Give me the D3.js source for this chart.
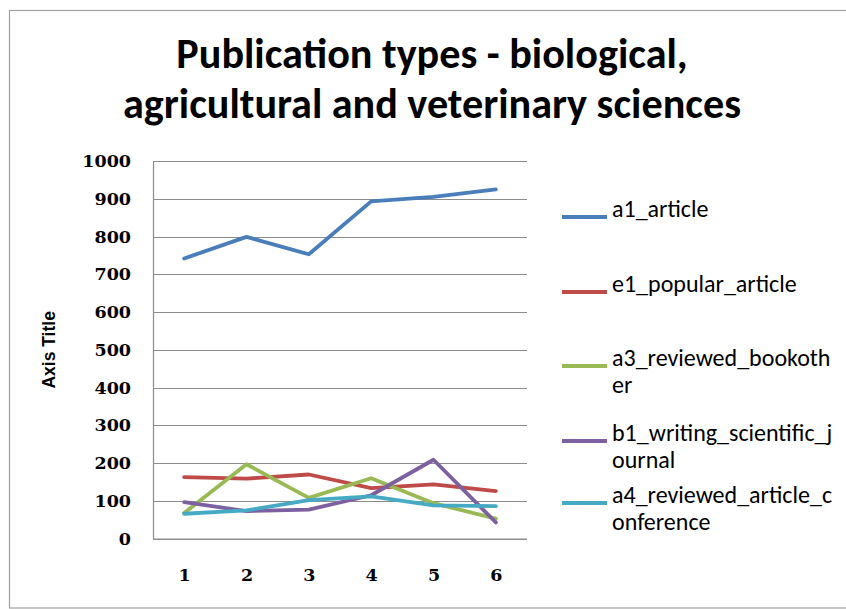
<!DOCTYPE html>
<html><head><meta charset="utf-8">
<script src="https://cdn.jsdelivr.net/npm/d3@7"></script>
<style>
html,body{margin:0;padding:0;background:#fff;overflow:hidden;}
svg{display:block;}
</style></head>
<body>
<svg id="chart" width="846" height="609"></svg>
<script>
const titleLines = ["Publication types - biological,", "agricultural and veterinary sciences"];
const categories = ["1", "2", "3", "4", "5", "6"];
const yTicks = [0, 100, 200, 300, 400, 500, 600, 700, 800, 900, 1000];
const seriesNames = ["a1_article", "e1_popular_article", "a3_reviewed_bookother", "b1_writing_scientific_journal", "a4_reviewed_article_conference"];
const seriesColors = ["#4A7EBB", "#BE4B48", "#98B954", "#7D60A0", "#46AAC5"];
const a1_article = [742, 799, 753, 893, 905, 925];
const e1_popular_article = [163, 159, 170, 134, 144, 126];
const a3_reviewed_bookother = [68, 197, 108, 160, 94, 53];
const b1_writing_scientific_journal = [97, 73, 77, 115, 209, 43];
const a4_reviewed_article_conference = [66, 75, 102, 112, 88, 86];
const seriesValues = [a1_article, e1_popular_article, a3_reviewed_bookother, b1_writing_scientific_journal, a4_reviewed_article_conference];
const yAxisTitle = "Axis Title";

const svg = d3.select("#chart");

// outer frame
svg.append("rect").attr("x", 9.5).attr("y", 10.5).attr("width", 846).attr("height", 597.5)
  .attr("fill", "#fff").attr("stroke", "#a0a0a0").attr("stroke-width", 1.2);

// title
const titleFont = "Carlito, Lato, 'Open Sans', sans-serif";
const tg = svg.append("g");
const t1 = tg.append("text").attr("x", 432).attr("y", 68).text(titleLines[0]);
const t2 = tg.append("text").attr("x", 432).attr("y", 118).text(titleLines[1]);
tg.selectAll("text").attr("text-anchor", "middle").attr("font-family", titleFont)
  .attr("font-weight", "bold").attr("font-size", 34).attr("fill", "#000");
const w2 = t2.node().getComputedTextLength();
const fs = 34 * 618 / w2;
tg.selectAll("text").attr("font-size", fs);

// plot area
const pLeft = 153, pRight = 527, pTop = 161, pBottom = 538.7;
const x = d3.scalePoint().domain(categories).range([pLeft, pRight]).padding(0.5);
const y = d3.scaleLinear().domain([0, 1000]).range([pBottom, pTop]);

// gridlines
svg.append("g").selectAll("line").data(yTicks).join("line")
  .attr("x1", pLeft).attr("x2", pRight)
  .attr("y1", d => Math.round(y(d)) + 0.5).attr("y2", d => Math.round(y(d)) + 0.5)
  .attr("stroke", "#8c8c8c").attr("stroke-width", 1.2);

// y axis
const yAxis = d3.axisLeft(y).tickValues(yTicks).tickFormat(d3.format("d")).tickSize(0).tickPadding(22);
const yg = svg.append("g").attr("transform", `translate(${pLeft},0)`).call(yAxis);
yg.select(".domain").attr("stroke", "#8c8c8c").attr("stroke-width", 1.2);
yg.selectAll("text").attr("font-family", "'DejaVu Serif', serif").attr("font-weight", "bold")
  .attr("font-size", 17.5).attr("fill", "#000");

// x axis
const xAxis = d3.axisBottom(x).tickSize(0).tickPadding(30);
const xg = svg.append("g").attr("transform", `translate(0,${pBottom})`).call(xAxis);
xg.select(".domain").attr("stroke", "#8c8c8c").attr("stroke-width", 1.2).attr("d", `M${pLeft},0.5H${pRight}`);
xg.selectAll("text").attr("font-family", "'DejaVu Serif', serif").attr("font-weight", "bold")
  .attr("font-size", 17.5).attr("fill", "#000");

// axis title
svg.append("text").attr("transform", `translate(55,${(pTop + pBottom) / 2}) rotate(-90)`)
  .attr("text-anchor", "middle").attr("font-family", "'Liberation Sans', Arial, sans-serif")
  .attr("font-weight", "bold").attr("font-size", 17.5).text(yAxisTitle);

// lines
const line = d3.line().x((d, i) => x(categories[i])).y(d => y(d));
svg.append("g").selectAll("path").data(seriesValues).join("path")
  .attr("d", d => line(d)).attr("fill", "none")
  .attr("stroke", (d, i) => seriesColors[i]).attr("stroke-width", 3.8)
  .attr("stroke-linejoin", "round").attr("stroke-linecap", "round");

// legend
const legendFont = "Carlito, Lato, 'Open Sans', sans-serif";
const legendY = [217, 292, 366, 441, 503];
const lg = svg.append("g");
const textX = 612, maxW = 226;
seriesNames.forEach((name, i) => {
  const g = lg.append("g");
  g.append("line").attr("x1", 562).attr("x2", 607).attr("y1", legendY[i]).attr("y2", legendY[i])
    .attr("stroke", seriesColors[i]).attr("stroke-width", 3.8);
  const t = g.append("text").attr("x", textX).attr("y", legendY[i]).attr("dy", "0.35em")
    .attr("font-family", legendFont).attr("font-size", 24).attr("fill", "#000");
  let lines = [], cur = "";
  const probe = t.append("tspan");
  for (const ch of name) {
    probe.text(cur + ch);
    if (probe.node().getComputedTextLength() > maxW && cur.length) { lines.push(cur); cur = ch; }
    else cur += ch;
  }
  lines.push(cur);
  probe.remove();
  lines.forEach((ln, j) => {
    t.append("tspan").attr("x", textX).attr("dy", j === 0 ? 0 : 27).text(ln);
  });
});
</script>
</body></html>
